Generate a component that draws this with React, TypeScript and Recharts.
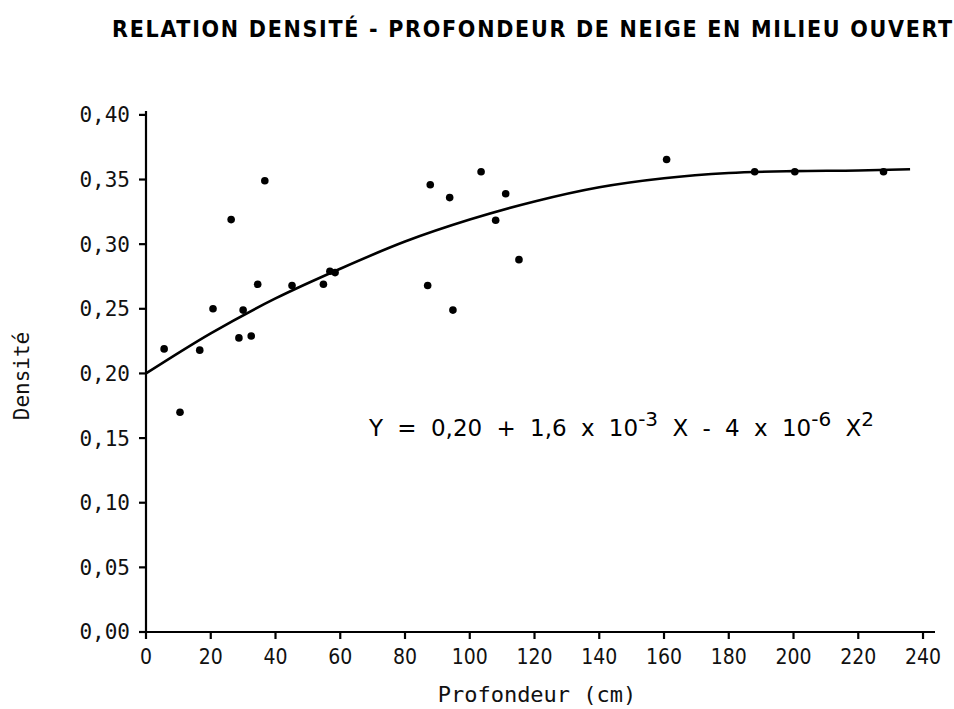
import React from 'react';
import { ComposedChart, Scatter, Line, XAxis, YAxis } from 'recharts';

// Observations (profondeur cm, densité)
const depthObs = [5.6, 10.5, 16.6, 20.7, 26.3, 28.7, 30.0, 32.5, 34.5, 36.7, 45.1, 54.8, 56.8, 58.4, 87.0, 87.8, 93.8, 94.8, 103.5, 108.0, 111.1, 115.2, 160.8, 188.0, 200.4, 227.8];
const densityObs = [0.219, 0.170, 0.218, 0.250, 0.319, 0.2275, 0.249, 0.229, 0.269, 0.349, 0.268, 0.269, 0.279, 0.278, 0.268, 0.346, 0.336, 0.249, 0.356, 0.3185, 0.339, 0.288, 0.3655, 0.356, 0.356, 0.356];

// Fitted curve
const curveDepth = [0, 20, 40, 60, 80, 100, 120, 140, 160, 180, 200, 220, 236];
const curveDensity = [0.200, 0.231, 0.258, 0.281, 0.302, 0.319, 0.333, 0.344, 0.351, 0.355, 0.3565, 0.357, 0.358];

const xTicks = [0, 20, 40, 60, 80, 100, 120, 140, 160, 180, 200, 220, 240];
const yTicks = [0, 0.05, 0.1, 0.15, 0.2, 0.25, 0.3, 0.35, 0.4];

const title = 'RELATION DENSITÉ - PROFONDEUR DE NEIGE EN MILIEU OUVERT';
const xLabel = 'Profondeur (cm)';
const yLabel = 'Densité';

const obsData = depthObs.map((x, i) => ({ x, y: densityObs[i] }));
const curveData = curveDepth.map((x, i) => ({ x, y: curveDensity[i] }));

const mono = '"DejaVu Sans Mono", monospace';
const cond = '"DejaVu Sans Condensed", "DejaVu Sans", sans-serif';
const sans = '"DejaVu Sans", sans-serif';

const Dot = (props: any) => {
  const { cx, cy } = props;
  if (cx == null || cy == null) return null;
  return <circle cx={cx} cy={cy} r={3.8} fill="#000" />;
};

const supStyle: React.CSSProperties = { fontSize: 20, verticalAlign: '0.5em', lineHeight: 0 };

export default function App() {
  return (
    <div style={{ position: 'absolute', left: 0, top: 0, width: 954, height: 709, background: '#fff' }}>
      <ComposedChart
        width={954}
        height={709}
        margin={{ top: 111, right: 19, bottom: 27, left: 46 }}
      >
        <XAxis
          type="number"
          dataKey="x"
          domain={[0, 243.7]}
          ticks={xTicks}
          interval={0}
          axisLine={{ stroke: '#000', strokeWidth: 2.2 }}
          tickLine={{ stroke: '#000', strokeWidth: 2.2 }}
          tickSize={7}
          tickMargin={10}
          height={50}
          tick={{ fill: '#111', fontSize: 21, fontFamily: cond }}
        />
        <YAxis
          type="number"
          dataKey="y"
          domain={[0, 0.403]}
          ticks={yTicks}
          interval={0}
          width={100}
          axisLine={{ stroke: '#000', strokeWidth: 2.2 }}
          tickLine={{ stroke: '#000', strokeWidth: 2.2 }}
          tickSize={7}
          tickMargin={9}
          tickFormatter={(v: number) => v.toFixed(2).replace('.', ',')}
          tick={{ fill: '#111', fontSize: 21, fontFamily: mono }}
        />
        <Line
          data={curveData}
          dataKey="y"
          type="monotone"
          stroke="#000"
          strokeWidth={2.6}
          dot={false}
          activeDot={false}
          isAnimationActive={false}
        />
        <Scatter data={obsData} dataKey="y" shape={<Dot />} isAnimationActive={false} />
      </ComposedChart>

      <div
        style={{
          position: 'absolute',
          left: 100,
          top: 16,
          width: 866,
          textAlign: 'center',
          fontFamily: cond,
          fontWeight: 700,
          fontSize: 23,
          color: '#000',
          whiteSpace: 'nowrap',
          letterSpacing: 1.7,
        }}
      >
        {title}
      </div>

      <div
        style={{
          position: 'absolute',
          left: 369,
          top: 413,
          fontFamily: sans,
          fontSize: 23,
          color: '#000',
          whiteSpace: 'nowrap',
          wordSpacing: 7,
          lineHeight: '30px',
        }}
      >
        Y = 0,20 + 1,6 x 10<sup style={supStyle}>-3</sup> X - 4 x 10<sup style={supStyle}>-6</sup> X<sup style={supStyle}>2</sup>
      </div>

      <div
        style={{
          position: 'absolute',
          left: 437,
          top: 682,
          width: 200,
          textAlign: 'center',
          fontFamily: mono,
          fontSize: 22,
          color: '#111',
          whiteSpace: 'nowrap',
        }}
      >
        {xLabel}
      </div>

      <div
        style={{
          position: 'absolute',
          left: 22,
          top: 376,
          transform: 'translate(-50%, -50%) rotate(-90deg)',
          fontFamily: mono,
          fontSize: 21,
          color: '#111',
          whiteSpace: 'nowrap',
        }}
      >
        {yLabel}
      </div>
    </div>
  );
}
